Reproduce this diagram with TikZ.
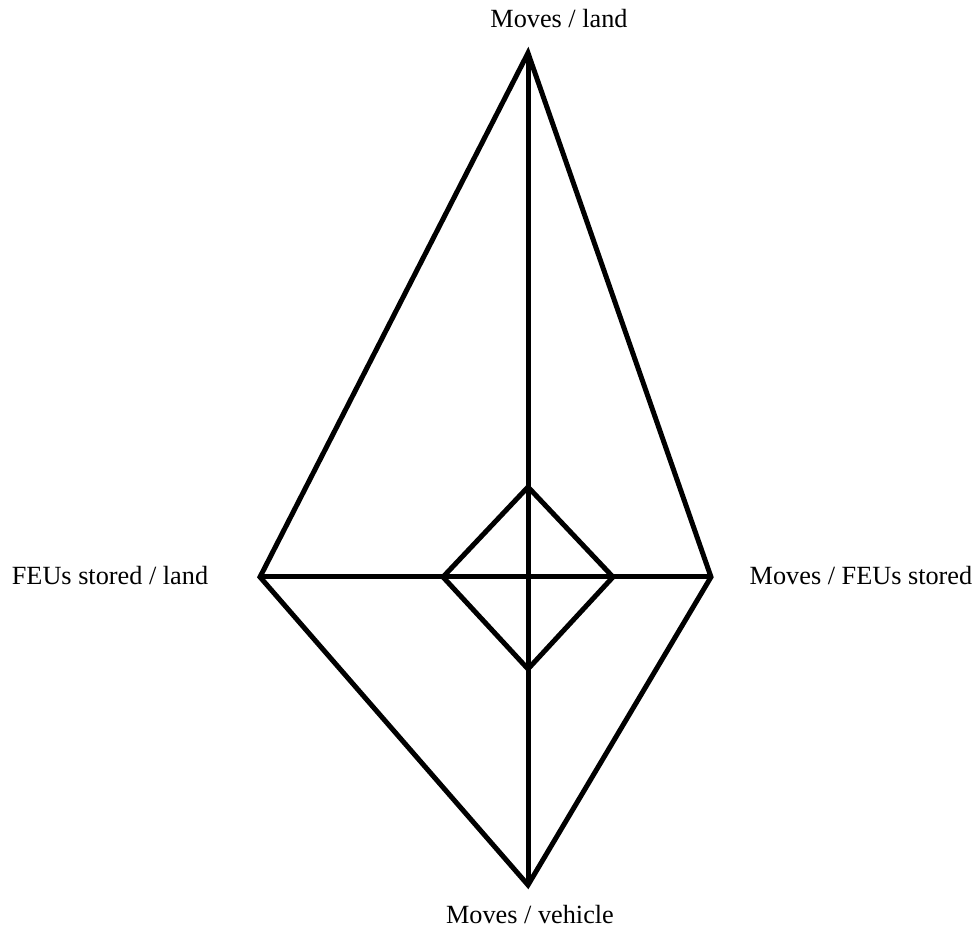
\documentclass[tikz,border=0pt]{standalone}
\usepackage{fontspec}
\setmainfont{Liberation Serif}
\usetikzlibrary{positioning}

\begin{document}
\begin{tikzpicture}[x=0.75pt,y=-0.75pt,line width=3.75pt,
  axislabel/.style={anchor=base,inner sep=0pt,font=\fontsize{19.7}{22}\selectfont}]
\useasboundingbox (0,0) rectangle (979,930);
% axis end points
\coordinate (centre) at (528,577);
\coordinate (land) at (528,53);
\coordinate (stored) at (260,577);
\coordinate (feus) at (711,577);
\coordinate (vehicle) at (528,885);
% inner diamond
\coordinate (iland) at (528,487);
\coordinate (istored) at (443,577);
\coordinate (ifeus) at (613,577);
\coordinate (ivehicle) at (528,669);
\draw (land) -- (feus) -- (vehicle) -- (stored) -- cycle;
\draw (land) -- (vehicle);
\draw (stored) -- (feus);
\draw (iland) -- (ifeus) -- (ivehicle) -- (istored) -- cycle;
\node[axislabel] (landlbl) at (559,28) {Moves / land};
\node[axislabel] (storedlbl) at (110,585) {FEUs stored / land};
\node[axislabel] (feuslbl) at (861,585) {Moves / FEUs stored};
\node[axislabel] (vehiclelbl) at (530,923) {Moves / vehicle};
\end{tikzpicture}
\end{document}
